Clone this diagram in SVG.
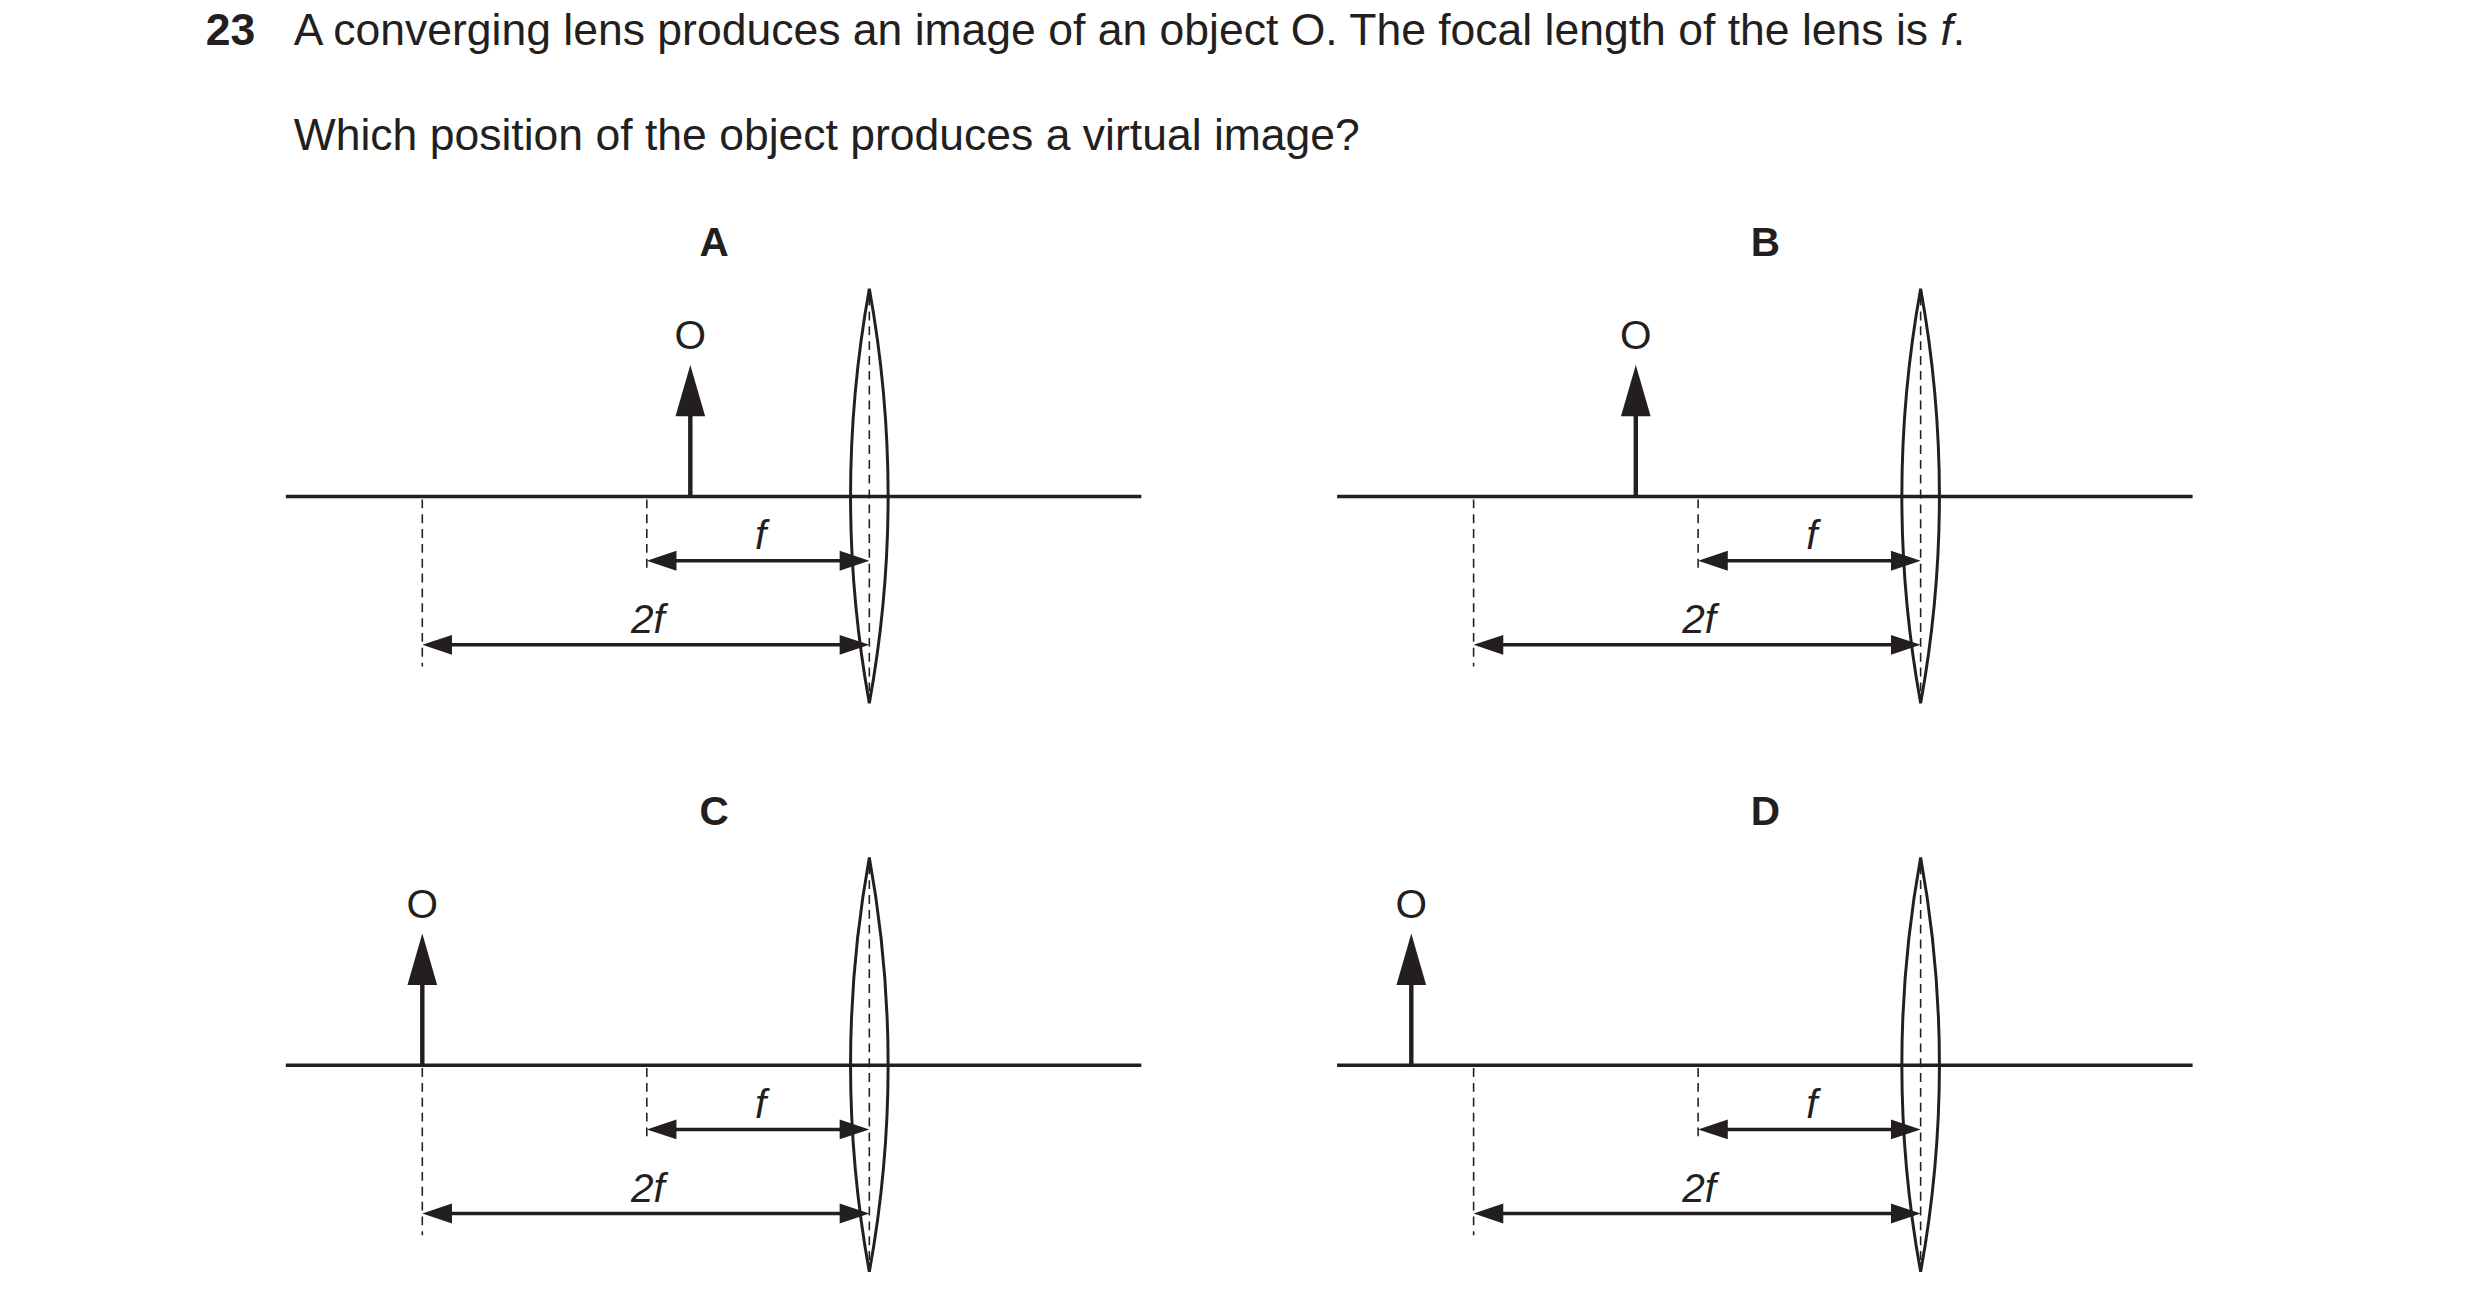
<svg xmlns="http://www.w3.org/2000/svg" width="2480" height="1316" viewBox="0 0 2480 1316">
<style>
text{font-family:"Liberation Sans",Arial,sans-serif;fill:#231f20}
.q{font-size:45px}
.lab{font-size:41px;font-weight:bold;text-anchor:middle}
.o{font-size:41px;text-anchor:middle}
.it{font-size:41px;font-style:italic;text-anchor:middle}
.ax{stroke:#231f20;stroke-width:3.5;fill:none}
.ln{stroke:#231f20;stroke-width:3;fill:none}
.dash{stroke:#231f20;stroke-width:1.6;stroke-dasharray:9,6;fill:none}
.dim{stroke:#231f20;stroke-width:3.5;fill:none}
.obj{stroke:#231f20;stroke-width:4.5;fill:none}
.hd{fill:#231f20}
</style>
<defs>
<g id="panel">
<line class="ax" x1="289" y1="502" x2="1154" y2="502"/>
<path class="ln" d="M879 292 Q917 502 879 711 Q841 502 879 292 Z"/>
<line class="dash" x1="879" y1="300" x2="879" y2="705"/>
<line class="dash" x1="427" y1="505" x2="427" y2="674"/>
<line class="dash" x1="654" y1="505" x2="654" y2="580"/>
<line class="dim" x1="680" y1="567" x2="852" y2="567"/>
<path class="hd" d="M654 567 L684 557 L684 577 Z M879 567 L849 557 L849 577 Z"/>
<line class="dim" x1="453" y1="652" x2="852" y2="652"/>
<path class="hd" d="M427 652 L457 642 L457 662 Z M879 652 L849 642 L849 662 Z"/>
<text class="it" x="769" y="555">f</text>
<text class="it" x="655" y="640">2f</text>
</g>
<g id="obj">
<line class="obj" x1="0" y1="502" x2="0" y2="415"/>
<path class="hd" d="M0 369 L-15 421 L15 421 Z"/>
<text class="o" x="0" y="353">O</text>
</g>
</defs>
<g transform="scale(0.989)">
<g id="question">
<text class="q" x="208" y="46" font-weight="bold">23</text>
<text class="q" x="297" y="46">A converging lens produces an image of an object O. The focal length of the lens is <tspan font-style="italic">f</tspan>.</text>
<text class="q" x="297" y="152">Which position of the object produces a virtual image?</text>
</g>
<g id="panelA">
<text class="lab" x="722" y="259">A</text>
<use href="#panel"/>
<use href="#obj" x="698"/>
</g>
<g id="panelB">
<text class="lab" x="1785" y="259">B</text>
<use href="#panel" x="1063"/>
<use href="#obj" x="1654"/>
</g>
<g id="panelC">
<text class="lab" x="722" y="834">C</text>
<use href="#panel" y="575"/>
<use href="#obj" x="427" y="575"/>
</g>
<g id="panelD">
<text class="lab" x="1785" y="834">D</text>
<use href="#panel" x="1063" y="575"/>
<use href="#obj" x="1427" y="575"/>
</g>
<g id="connectors"/>
</g>
</svg>
